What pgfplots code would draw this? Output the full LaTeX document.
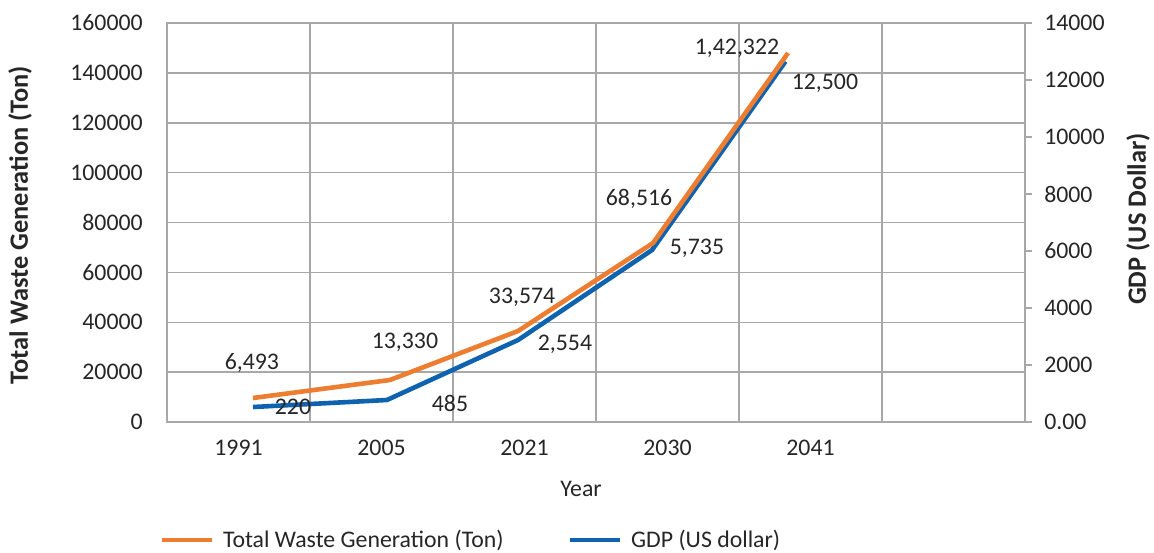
\documentclass[border=0pt]{standalone}
\usepackage{fontspec}
\setmainfont{Carlito}
\usepackage{pgfplots}
\pgfplotsset{compat=1.18}
\definecolor{wOrange}{RGB}{237,125,49}
\definecolor{gBlue}{RGB}{15,98,174}
\definecolor{gridc}{RGB}{168,168,168}
\definecolor{txt}{RGB}{38,38,38}
\begin{document}
\begin{tikzpicture}[x=1pt,y=1pt]
\useasboundingbox (0,0) rectangle (577,276);
\pgfplotsset{
  base/.style={scale only axis, width=429pt, height=199.5pt,
    at={(83.5pt,65pt)}, anchor=south west,
    xmin=0, xmax=6, clip=false,
    scaled y ticks=false, scaled x ticks=false,
    tick label style={font=\fontsize{11.9}{14}\selectfont, text=txt},
  },
}
% axis A: right scale (GDP), box, grid, blue line
\begin{axis}[base,
  ymin=0, ymax=14000,
  axis line style={gridc, line width=0.75pt},
  xtick={0.5,1.5,2.5,3.5,4.5},
  xticklabels={1991,2005,2021,2030,2041},
  xticklabel style={yshift=-2.1pt},
  minor xtick={1,2,3,4,5},
  xminorgrids=true,
  minor tick length=0pt,
  xtick style={draw=none},
  ytick={0,2000,4000,6000,8000,10000,12000,14000},
  yticklabels={0.00,2000,4000,6000,8000,10000,12000,14000},
  ytick pos=right, yticklabel pos=right,
  tick align=outside,
  major tick length=3.5pt,
  ytick style={gridc, line width=0.75pt},
  yticklabel style={xshift=2.6pt},
  extra y ticks={1750,3500,5250,7000,8750,10500,12250},
  extra y tick labels={},
  extra y tick style={grid=major, major tick length=0pt, tick style={draw=none}},
  grid style={gridc, line width=0.75pt},
  legend style={at={(-0.0093,-0.2957)}, anchor=west, draw=none, fill=none,
    inner sep=0pt, font=\fontsize{11.9}{14}\selectfont, text=txt,
    legend columns=2,
    /tikz/every odd column/.append style={column sep=2.5pt},
    /tikz/every even column/.append style={column sep=30pt}},
  legend image code/.code={\draw[#1] (0pt,0pt) -- (25pt,0pt);},
]
\addlegendimage{wOrange, line width=2.3pt}
\addlegendentry{Total Waste Generation (Ton)}
\addplot[gBlue, line width=2.3pt, line join=round] coordinates {
  (0.601,526) (1.538,772) (2.455,2877) (3.392,6035) (4.325,12650)
};
\addlegendentry{GDP (US dollar)}
\node[rotate=90, font=\bfseries\fontsize{13.2}{15}\selectfont, text=txt] at (rel axis cs:1.1317,0.5088) {GDP (US Dollar)};
\end{axis}
% axis B: left scale (waste), orange line, labels
\begin{axis}[base,
  ymin=0, ymax=160000,
  axis x line=none,
  axis y line*=left,
  y axis line style={draw=none},
  ytick={0,20000,40000,60000,80000,100000,120000,140000,160000},
  yticklabels={0,20000,40000,60000,80000,100000,120000,140000,160000},
  major tick length=0pt,
  yticklabel style={xshift=-8.6pt},
]
\addplot[wOrange, line width=2.3pt, line join=round] coordinates {
  (0.601,9624) (1.559,16842) (2.455,36491) (3.399,71779) (4.343,147970)
};
\begin{scope}[every node/.style={font=\fontsize{11.9}{14}\selectfont, text=txt, inner sep=0pt}]
\node at (axis cs:0.594,23659) {6,493};
\node at (axis cs:0.881,6015) {220};
\node at (axis cs:1.664,32080) {13,330};
\node at (axis cs:1.979,7619) {485};
\node at (axis cs:2.483,50125) {33,574};
\node at (axis cs:2.783,31278) {2,554};
\node at (axis cs:3.301,89423) {68,516};
\node at (axis cs:3.706,69774) {5,735};
\node at (axis cs:3.986,149974) {1,42,322};
\node at (axis cs:4.601,135939) {12,500};
\end{scope}
\node[rotate=90, font=\bfseries\fontsize{13.2}{15}\selectfont, text=txt] at (rel axis cs:-0.1713,0.4937) {Total Waste Generation (Ton)};
\node[font=\fontsize{11.9}{14}\selectfont, text=txt] at (rel axis cs:0.4825,-0.168) {Year};
\end{axis}
\end{tikzpicture}
\end{document}
